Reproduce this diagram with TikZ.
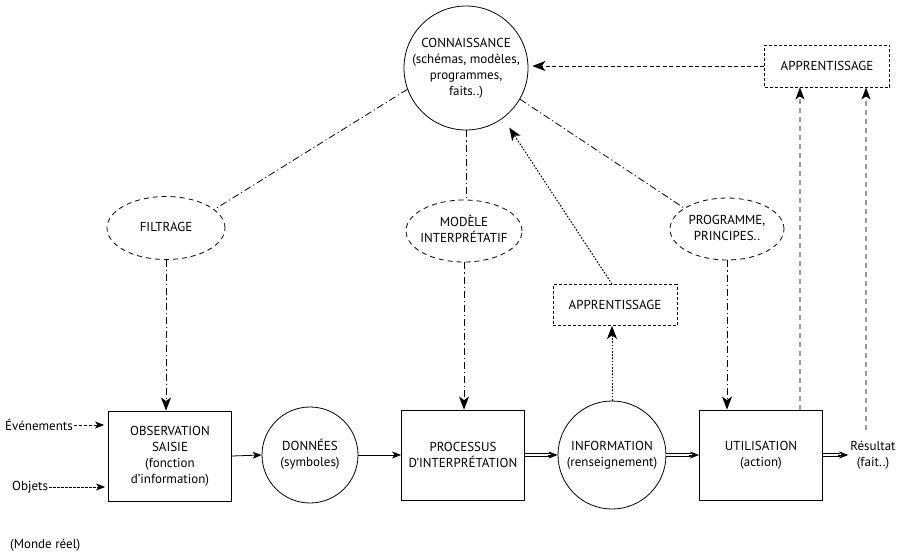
\documentclass[tikz,border=0pt]{standalone}
\usepackage{fontspec}
\setmainfont{PT Sans}
\usetikzlibrary{arrows.meta,calc,shapes.geometric}
\newcommand\zwt[1]{\makebox[0pt]{\begin{tabular}{@{}c@{}}#1\end{tabular}}}
\begin{document}
\begin{tikzpicture}[x=1pt,y=-1pt,
  font=\fontsize{13}{16}\selectfont,
  box/.style={draw, line width=0.9pt, minimum width=123pt, minimum height=90pt, align=center, inner sep=0pt},
  ebox/.style={draw, ellipse, dash pattern=on 5pt off 4pt, line width=0.8pt, inner sep=0pt},
  dbox/.style={draw, dash pattern=on 3pt off 2pt, line width=0.8pt, minimum width=124pt, minimum height=41pt, inner sep=0pt},
  circ/.style={draw, circle, line width=0.8pt, inner sep=0pt},
  tip/.style={-{Stealth[length=13pt,width=10pt,inset=3.5pt]}},
  smalltip/.style={-{Stealth[length=9pt,width=7pt,inset=2.5pt]}},
  dashdot/.style={dash pattern=on 7pt off 3pt on 1.2pt off 3pt, line width=0.8pt},
  dotline/.style={dash pattern=on 1.6pt off 1.6pt, line width=1pt},
  greydash/.style={draw=black!40, dash pattern=on 5pt off 4pt, line width=1.4pt},
  dbl/.style={double, double distance=2.8pt, line width=0.7pt},
  txt/.style={inner sep=1pt, align=center}]
\useasboundingbox[fill=white] (0,0) rectangle (900,552);

% knowledge circle
\node[circ, minimum size=124pt] (conn) at (466,68)
  {\zwt{CONNAISSANCE\\(schémas, modèles,\\programmes,\\faits..)}};
\node[dbox, minimum width=125pt, minimum height=42pt] (app1) at (827,66) {APPRENTISSAGE};

% ellipses
\node[ebox, minimum width=118pt, minimum height=63pt] (filt) at (166,228) {\zwt{FILTRAGE}};
\node[ebox, minimum width=116pt, minimum height=62pt] (mod) at (464,231) {\zwt{MODÈLE\\INTERPRÉTATIF}};
\node[ebox, minimum width=114pt, minimum height=62pt] (prog) at (727,229) {\zwt{PROGRAMME,\\PRINCIPES..}};
\node[dbox] (app2) at (615,305) {APPRENTISSAGE};

% bottom row
\node[box] (obs) at (170,456) {OBSERVATION\\SAISIE\\(fonction\\d'information)};
\node[circ, minimum size=96pt] (don) at (310,455) {\zwt{DONNÉES\\(symboles)}};
\node[box] (proc) at (463,455) {PROCESSUS\\D'INTERPRÉTATION};
\node[circ, minimum size=108pt] (info) at (612,455) {\zwt{INFORMATION\\(renseignement)}};
\node[box] (util) at (761,455) {UTILISATION\\(action)};
\node[txt] (res) at (873,455) {Résultat\\(fait..)};

\node[txt, anchor=west] (ev) at (4,425) {Événements};
\node[txt, anchor=west] (obj) at (11,487) {Objets};
\node[txt, anchor=west] (monde) at (9,545) {(Monde réel)};

% inputs
\draw[dash pattern=on 3pt off 2pt, line width=0.8pt, smalltip] (ev.east) -- ($(ev.east -| obs.west)+(-4,0)$);
\draw[dash pattern=on 2.5pt off 1.5pt, line width=0.8pt, smalltip] (obj.east) -- ($(obj.east -| obs.west)+(-3,0)$);

% main chain
\draw[line width=0.8pt, smalltip] (obs.east) -- (don.west);
\draw[line width=0.8pt, smalltip] (don.east) -- (proc.west);
\draw[dbl] (proc.east) -- ($(info.west)+(-8,0)$);
\draw[line width=0.7pt, smalltip] ($(info.west)+(-10,0)$) -- (info.west);
\draw[dbl] (info.east) -- ($(util.west)+(-8,0)$);
\draw[line width=0.7pt, smalltip] ($(util.west)+(-10,0)$) -- (util.west);
\draw[dbl] (util.east) -- ($(res.west)+(-9,0)$);
\draw[line width=0.7pt, smalltip] ($(res.west)+(-11,0)$) -- ($(res.west)+(-1,0)$);

% knowledge links (dash-dot)
\draw[dashdot] (conn.200) -- (filt.21);
\draw[dashdot, tip] (filt.south) -- (filt.south |- obs.north);
\draw[dashdot] (conn.south) -- (conn.south |- mod.north);
\draw[dashdot, tip] (mod.south) -- (mod.south |- proc.north);
\draw[dashdot] (conn.-30) -- (prog.154);
\draw[dashdot, tip] (prog.south) -- (prog.south |- util.north);

% learning (dotted)
\draw[dotline, tip] (info.north) -- (info.north |- app2.south);
\draw[dotline, tip] (info.north |- app2.north) -- ($(conn.center)!1.18!(conn.-54)$);

% learning from result (grey dashed)
\coordinate (u1) at ($(util.north east)+(-23,0)$);
\coordinate (r1) at (866,430);
\draw[greydash, -{Stealth[length=12pt,width=9pt,inset=3pt,black]}] (u1) -- (u1 |- app1.south);
\draw[greydash, -{Stealth[length=12pt,width=9pt,inset=3pt,black]}] (r1) -- (r1 |- app1.south);

% to knowledge
\draw[dash pattern=on 4pt off 2.5pt, line width=0.8pt, tip] (app1.west) -- ($(app1.west -| conn.east)+(4,0)$);
\end{tikzpicture}
\end{document}
